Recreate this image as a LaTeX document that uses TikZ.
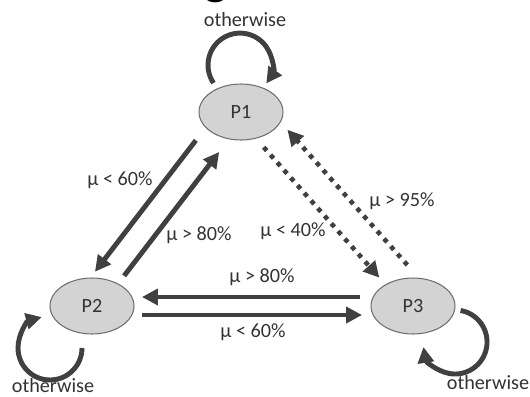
\documentclass[tikz,border=0pt]{standalone}
\usepackage{fontspec}
\setmainfont{Carlito}
\usetikzlibrary{arrows.meta,shapes.geometric}
\definecolor{arrowgray}{HTML}{404040}
\definecolor{nodefill}{HTML}{D3D3D3}
\definecolor{nodeline}{HTML}{6E6E6E}
\definecolor{labelgray}{HTML}{333333}
\tikzset{
  state/.style={ellipse, draw=nodeline, fill=nodefill, line width=0.6pt,
    minimum width=1.68cm, minimum height=1.12cm, inner sep=0pt, text=labelgray},
  lbl/.style={text=labelgray, inner sep=1pt},
  arr/.style={draw=arrowgray, line width=2.8pt, -{Triangle[length=9pt,width=9pt]}},
  dotarr/.style={arr, line width=2.6pt, dash pattern=on 2.6pt off 3.2pt},
  looparr/.style={draw=arrowgray, line width=2.8pt, -{Triangle[length=9pt,width=9pt]}}
}
\begin{document}
\begin{tikzpicture}[x=0.02cm,y=-0.02cm,font=\fontsize{11.5}{13}\selectfont]
  \useasboundingbox (0,0) rectangle (530,396);
  \clip (0,0) rectangle (530,396);
  \node[anchor=base, font=\fontsize{28}{32}\selectfont\bfseries] (cut) at (216,-6) {g};
  % states
  \node[state] (p1) at (241,112) {P1};
  \node[state] (p2) at (92,306) {P2};
  \node[state] (p3) at (413,306) {P3};
  % self loops
  \draw[looparr] ([shift={(-27.5,-29)}]p1.center) arc[start angle=146, end angle=395, radius=32];
  \draw[looparr] ([shift={(-10,42)}]p2.center) arc[start angle=0, end angle=255, radius=32];
  \draw[looparr] ([shift={(47.6,4.5)}]p3.center) arc[start angle=-80, end angle=171, radius=32];
  % transitions
  \begin{scope}
    \draw[arr, transform canvas={shift={(-14.7,-11.3)}}, shorten <=1.0cm, shorten >=0.58cm] (p1.center) -- (p2.center);
    \draw[arr, transform canvas={shift={(5.6,4.3)}}, shorten <=0.87cm, shorten >=0.9cm] (p2.center) -- (p1.center);
    \draw[dotarr, transform canvas={shift={(-4.8,4.2)}}, shorten <=0.83cm, shorten >=0.87cm] (p1.center) -- (p3.center);
    \draw[dotarr, transform canvas={shift={(17.2,-15.2)}}, shorten <=0.69cm, shorten >=0.88cm] (p3.center) -- (p1.center);
    \draw[arr, transform canvas={shift={(0,-9)}}, shorten <=1.06cm, shorten >=1.0cm] (p3.center) -- (p2.center);
    \draw[arr, transform canvas={shift={(0,9)}}, shorten <=1.0cm, shorten >=1.02cm] (p2.center) -- (p3.center);
  \end{scope}
  % labels
  \node[lbl] (l12) at (120,180) {μ < 60\%};
  \node[lbl] (l21) at (199,235) {μ > 80\%};
  \node[lbl] (l13) at (293,231) {μ < 40\%};
  \node[lbl] (l31) at (402,201) {μ > 95\%};
  \node[lbl] (l32) at (262,277) {μ > 80\%};
  \node[lbl] (l23) at (253,332) {μ < 60\%};
  \node[lbl] (o1) at (245,20) {otherwise};
  \node[lbl] (o2) at (53,386) {otherwise};
  \node[lbl] (o3) at (488,383) {otherwise};
\end{tikzpicture}
\end{document}
